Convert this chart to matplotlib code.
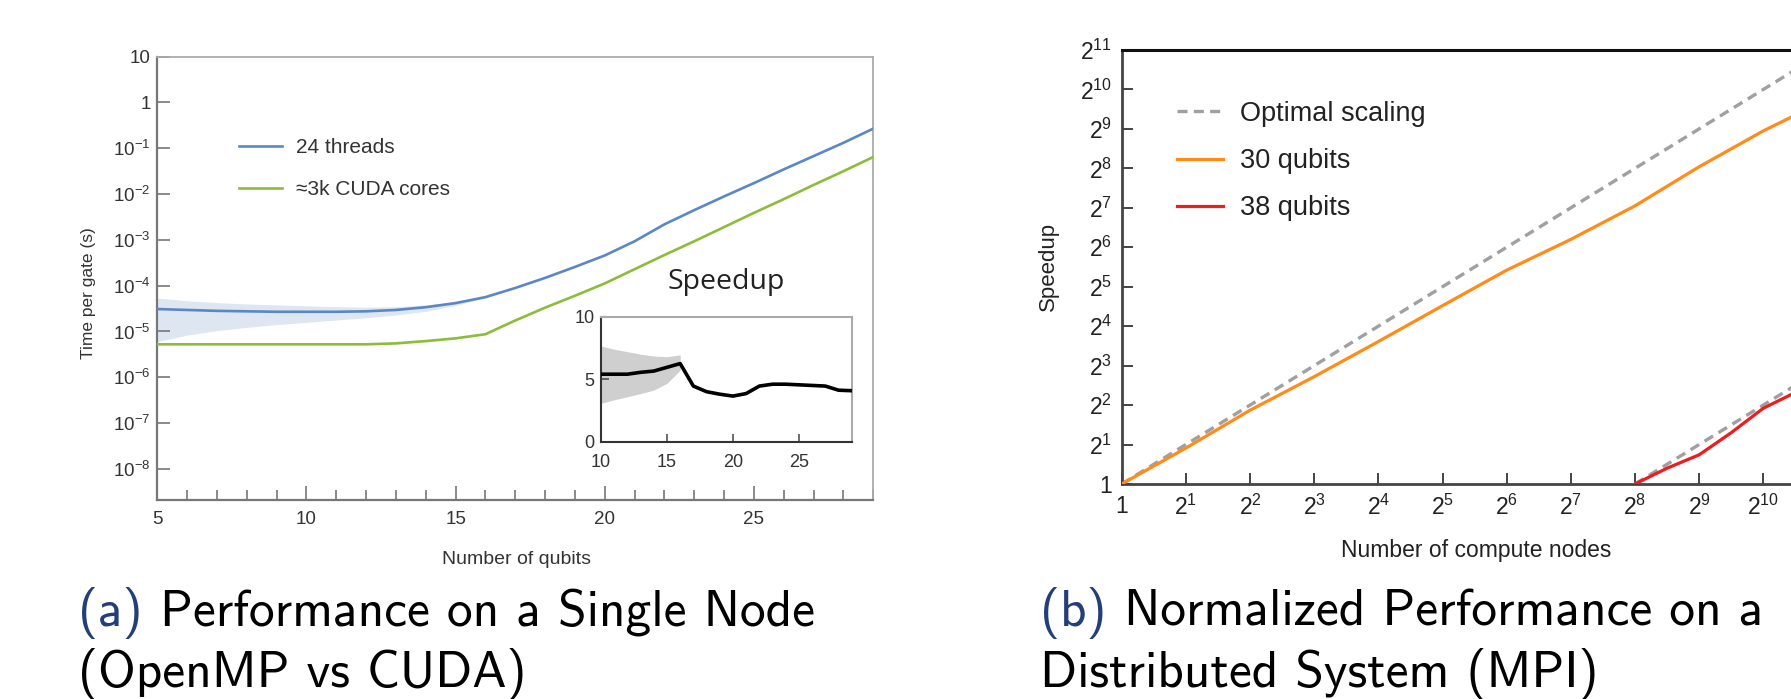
import numpy as np
import matplotlib
matplotlib.use('Agg')
import matplotlib.pyplot as plt
from matplotlib.ticker import FixedLocator, NullLocator, FixedFormatter

plt.rcParams['font.family'] = ['Liberation Sans', 'DejaVu Sans']
plt.rcParams['mathtext.fontset'] = 'custom'
plt.rcParams['mathtext.rm'] = 'Liberation Sans'
plt.rcParams['mathtext.it'] = 'Liberation Sans:italic'
plt.rcParams['mathtext.bf'] = 'Liberation Sans:bold'
plt.rcParams['mathtext.default'] = 'regular'

# ---------------- data (panel a) ----------------
qubits = list(range(5, 30))
threads_log10 = [-4.51, -4.53, -4.55, -4.56, -4.57, -4.57, -4.57, -4.56, -4.53, -4.47,
                 -4.38, -4.25, -4.05, -3.83, -3.59, -3.34, -3.03, -2.66, -2.35, -2.05,
                 -1.76, -1.46, -1.17, -0.88, -0.57]
cuda_log10 = [-5.28, -5.28, -5.28, -5.28, -5.28, -5.28, -5.28, -5.28, -5.26, -5.21,
              -5.15, -5.06, -4.76, -4.48, -4.22, -3.95, -3.64, -3.33, -3.03, -2.72,
              -2.41, -2.11, -1.80, -1.50, -1.19]
band_qubits = list(range(5, 17))
threads_low_log10 = [-5.22, -5.08, -4.98, -4.91, -4.85, -4.80, -4.75, -4.70, -4.64, -4.56, -4.43, -4.26]
threads_high_log10 = [-4.27, -4.33, -4.37, -4.40, -4.42, -4.44, -4.46, -4.47, -4.46, -4.42, -4.35, -4.24]

inset_qubits = list(range(10, 30))
speedup = [5.4, 5.4, 5.4, 5.55, 5.65, 5.95, 6.25, 4.45, 4.0, 3.8, 3.65, 3.85, 4.45, 4.6,
           4.6, 4.55, 4.5, 4.45, 4.12, 4.08]
inset_band_qubits = list(range(10, 17))
speedup_low = [3.07, 3.35, 3.6, 3.85, 4.13, 4.67, 5.73]
speedup_high = [7.65, 7.4, 7.2, 7.0, 6.85, 6.8, 6.95]

y_ticks_a = [1e-8, 1e-7, 1e-6, 1e-5, 1e-4, 1e-3, 1e-2, 1e-1, 1, 10]
y_labels_a = [r'$10^{-8}$', r'$10^{-7}$', r'$10^{-6}$', r'$10^{-5}$', r'$10^{-4}$',
              r'$10^{-3}$', r'$10^{-2}$', r'$10^{-1}$', '1', '10']
x_ticks_a = [5, 10, 15, 20, 25]

# ---------------- data (panel b) ----------------
nodes_30_log2 = [0, 1, 2, 3, 4, 5, 6, 7, 8, 9, 10, 11]
speedup_30_log2 = [0, 0.91, 1.87, 2.72, 3.61, 4.52, 5.42, 6.2, 7.05, 8.04, 8.95, 9.75]
nodes_38_log2 = [8, 8.5, 9, 9.5, 10, 10.5, 11]
speedup_38_log2 = [0, 0.4, 0.74, 1.3, 1.92, 2.32, 2.8]
optimal_30_nodes = [1, 2048]
optimal_30_speedup = [1, 2048]
optimal_38_nodes = [256, 2048]
optimal_38_speedup = [1, 8]

pow2_ticks = [2 ** i for i in range(12)]
pow2_labels = ['1'] + [r'$2^{%d}$' % i for i in range(1, 12)]

# ---------------- figure ----------------
W, H = 1791, 699
fig = plt.figure(figsize=(W / 100, H / 100), dpi=100)


def fbox(x0, y0, x1, y1):
    return [x0 / W, 1 - y1 / H, (x1 - x0) / W, (y1 - y0) / H]


# ===== panel a =====
ax = fig.add_axes(fbox(157.3, 56.7, 873.3, 500))
blue = '#5b87c5'
green = '#8cbc3a'
ax.fill_between(band_qubits, 10 ** np.array(threads_low_log10), 10 ** np.array(threads_high_log10),
                color='#dde6f1', lw=0, zorder=1)
l1, = ax.plot(qubits, 10 ** np.array(threads_log10), color=blue, lw=1.9, zorder=3, label='24 threads')
l2, = ax.plot(qubits, 10 ** np.array(cuda_log10), color=green, lw=1.9, zorder=3, label='\u22483k CUDA cores')
ax.set_yscale('log')
ax.set_xlim(5, 29)
ax.set_ylim(10 ** -8.68, 10)
ax.yaxis.set_major_locator(FixedLocator(y_ticks_a))
ax.yaxis.set_major_formatter(FixedFormatter(y_labels_a))
ax.yaxis.set_minor_locator(NullLocator())
ax.xaxis.set_major_locator(FixedLocator(x_ticks_a))
ax.xaxis.set_minor_locator(FixedLocator(qubits))
ax.tick_params(axis='both', which='both', direction='in', colors='#777777', labelcolor='#333333')
ax.tick_params(axis='y', which='major', length=9, width=1.2, labelsize=13.5, pad=4.8)
ax.tick_params(axis='x', which='major', length=10, width=1.2, labelsize=13.5, pad=8)
ax.tick_params(axis='x', which='minor', length=7, width=1.2)
for s in ['left', 'bottom']:
    ax.spines[s].set_color('#777777')
    ax.spines[s].set_linewidth(1.6)
for s in ['top', 'right']:
    ax.spines[s].set_color('#aaaaaa')
    ax.spines[s].set_linewidth(1.3)
ax.set_xlabel('Number of qubits', fontsize=14, color='#333333')
ax.xaxis.label.set_va('center')
ax.xaxis.set_label_coords((516 - 157.3) / 716, (500 - 560) / 443.3)
ax.set_ylabel('Time per gate (s)', fontsize=12.5, color='#333333')
ax.yaxis.label.set_va('center')
ax.yaxis.set_label_coords((89 - 157.3) / 716, (500 - 293) / 443.3)
ax.legend(handles=[l1, l2], loc='center left', bbox_to_anchor=(239 / W, 1 - 168.5 / H),
          bbox_transform=fig.transFigure, frameon=False, fontsize=15, handlelength=2.05,
          handletextpad=0.67, labelspacing=1.12, borderpad=0, borderaxespad=0, labelcolor='#333333')

# inset
axi = fig.add_axes(fbox(601, 316.7, 851.7, 441.7))
axi.fill_between(inset_band_qubits, speedup_low, speedup_high, color='#cfcfcf', lw=0, zorder=1)
axi.plot(inset_qubits, speedup, color='black', lw=2.6, zorder=3)
axi.set_xlim(10, 29)
axi.set_ylim(0, 10)
axi.set_xticks([10, 15, 20, 25])
axi.set_yticks([0, 5, 10])
axi.tick_params(axis='both', direction='in', length=6, width=1.1, colors='#444444',
                labelcolor='#333333', labelsize=13)
axi.tick_params(axis='y', pad=4.8)
axi.tick_params(axis='x', pad=8.5)
for s in ['left', 'bottom']:
    axi.spines[s].set_color('#333333')
    axi.spines[s].set_linewidth(1.5)
for s in ['top', 'right']:
    axi.spines[s].set_color('#aaaaaa')
    axi.spines[s].set_linewidth(1.5)
axi.set_title('Speedup', fontsize=20.5, family=['Open Sans', 'DejaVu Sans'], color='#222222',
              pad=(316.7 - 289) * 0.72)

# ===== panel b =====
bx = fig.add_axes(fbox(1121.7, 50, 1121.7 + 11 * 64.16, 484))
bx.set_xscale('log', base=2)
bx.set_yscale('log', base=2)
dash_lw = 2.4
d1, = bx.plot(optimal_30_nodes, optimal_30_speedup, color='#a0a0a0', lw=dash_lw,
              linestyle=(0, (3.0, 1.9)), zorder=2, label='Optimal scaling')
bx.plot(optimal_38_nodes, optimal_38_speedup, color='#a0a0a0', lw=dash_lw,
        linestyle=(0, (3.0, 1.9)), zorder=2)
o1, = bx.plot(2.0 ** np.array(nodes_30_log2), 2.0 ** np.array(speedup_30_log2), color='#ff8c1a',
              lw=2.3, zorder=3, label='30 qubits')
r1, = bx.plot(2.0 ** np.array(nodes_38_log2), 2.0 ** np.array(speedup_38_log2), color='#ee1c1c',
              lw=2.3, zorder=3, label='38 qubits')
bx.set_xlim(1, 2048)
bx.set_ylim(1, 2048)
bx.xaxis.set_major_locator(FixedLocator(pow2_ticks[:11]))
bx.xaxis.set_major_formatter(FixedFormatter(pow2_labels[:11]))
bx.yaxis.set_major_locator(FixedLocator(pow2_ticks))
bx.yaxis.set_major_formatter(FixedFormatter(pow2_labels))
bx.xaxis.set_minor_locator(NullLocator())
bx.yaxis.set_minor_locator(NullLocator())
bx.tick_params(axis='both', direction='in', length=8, width=1.4, colors='#444444',
               labelcolor='#222222', labelsize=16.5)
bx.tick_params(axis='y', pad=7)
bx.tick_params(axis='x', pad=8)
for s in ['left', 'bottom']:
    bx.spines[s].set_color('#444444')
    bx.spines[s].set_linewidth(2.0)
bx.spines['top'].set_color('#111111')
bx.spines['top'].set_linewidth(2.2)
bx.spines['right'].set_visible(False)
bx.set_xlabel('Number of compute nodes', fontsize=16.5, color='#222222')
bx.xaxis.label.set_va('center')
bx.xaxis.set_label_coords((1476.6 - 1121.7) / 705.8, (484 - 551) / 434)
bx.set_ylabel('Speedup', fontsize=16, color='#222222')
bx.yaxis.label.set_va('center')
bx.yaxis.set_label_coords((1048.6 - 1121.7) / 705.8, (484 - 266.7) / 434)
bx.legend(handles=[d1, o1, r1], loc='center left', bbox_to_anchor=(1177 / W, 1 - 161 / H),
          bbox_transform=fig.transFigure, frameon=False, fontsize=19.5, handlelength=1.71,
          handletextpad=0.6, labelspacing=0.78, borderpad=0, borderaxespad=0, labelcolor='#222222')

# ===== captions =====
navy = '#233e78'
cap_fs = 37
renderer = fig.canvas.get_renderer()


def text_width(s):
    t = fig.text(0, 0, s, fontsize=cap_fs, family='cmss10')
    w = t.get_window_extent(renderer).width
    t.remove()
    return w


def caption(x0, tag, line1, line2):
    yb1 = 1 - 626 / H
    yb2 = 1 - 687 / H
    fig.text(x0 / W, yb1, tag, fontsize=cap_fs, family='cmss10', color=navy, va='baseline')
    off = text_width(tag + ' ' + line1) - text_width(line1)
    fig.text((x0 + off) / W, yb1, line1, fontsize=cap_fs, family='cmss10', color='black', va='baseline')
    fig.text(x0 / W, yb2, line2, fontsize=cap_fs, family='cmss10', color='black', va='baseline')


caption(78, '(a)', 'Performance on a Single Node', '(OpenMP vs CUDA)')
caption(1040, '(b)', 'Normalized Performance on a', 'Distributed System (MPI)')

fig.savefig('out.png', dpi=100)
